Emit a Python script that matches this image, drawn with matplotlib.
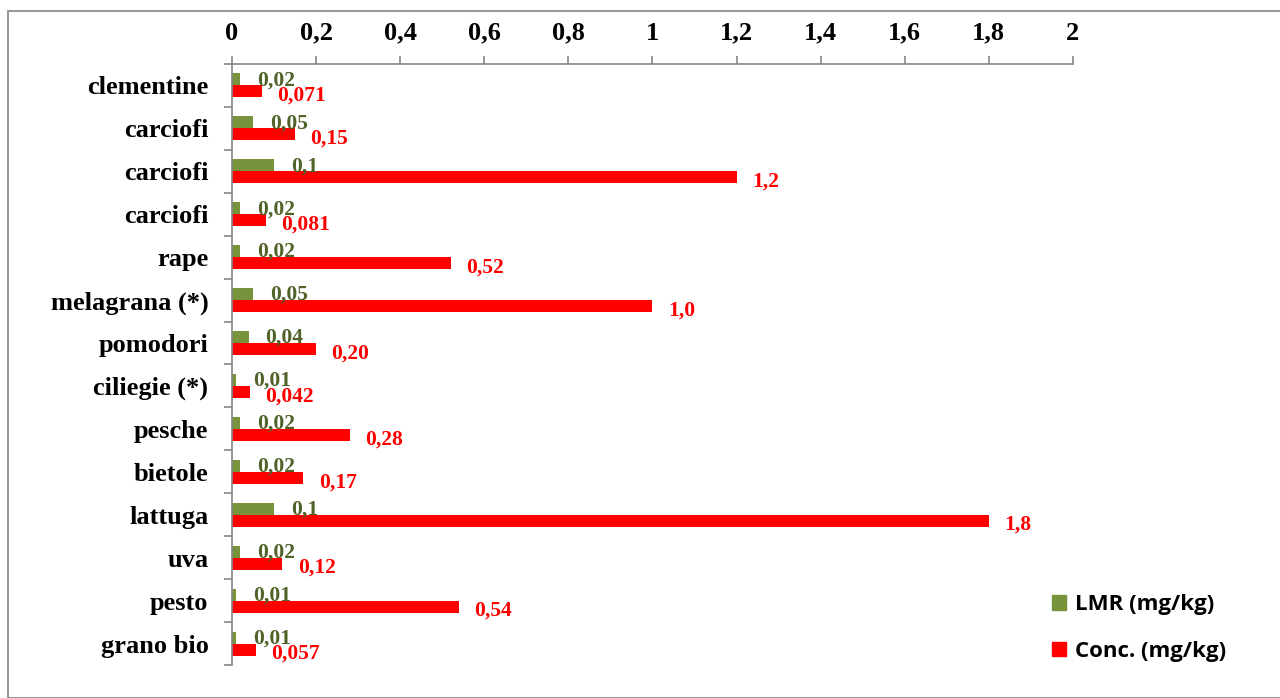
import matplotlib.pyplot as plt
import numpy as np
from matplotlib.patches import Rectangle, Patch

# categories top to bottom
prodotti = ['clementine', 'carciofi', 'carciofi', 'carciofi', 'rape', 'melagrana (*)',
            'pomodori', 'ciliegie (*)', 'pesche', 'bietole', 'lattuga', 'uva',
            'pesto', 'grano bio']
lmr = [0.02, 0.05, 0.1, 0.02, 0.02, 0.05, 0.04, 0.01, 0.02, 0.02, 0.1, 0.02, 0.01, 0.01]
conc = [0.071, 0.15, 1.2, 0.081, 0.52, 1.0, 0.20, 0.042, 0.28, 0.17, 1.8, 0.12, 0.54, 0.057]
lmr_lab = ['0,02', '0,05', '0,1', '0,02', '0,02', '0,05', '0,04', '0,01', '0,02', '0,02',
           '0,1', '0,02', '0,01', '0,01']
conc_lab = ['0,071', '0,15', '1,2', '0,081', '0,52', '1,0', '0,20', '0,042', '0,28', '0,17',
            '1,8', '0,12', '0,54', '0,057']
xticks = [0, 0.2, 0.4, 0.6, 0.8, 1, 1.2, 1.4, 1.6, 1.8, 2]

verde = '#77933C'
rosso = '#FF0000'
grigio = '#868686'
serif = 'Liberation Serif'

fig = plt.figure(figsize=(12.8, 6.98), dpi=100)
ax = fig.add_axes([0.18125, 0.0473, 0.657, 0.861])

# outer chart frame
fig.patches.append(Rectangle((8 / 1280, 0.0), 1.0, 1 - 11 / 698, transform=fig.transFigure,
                             fill=False, edgecolor=grigio, linewidth=1.2))

y = np.arange(len(prodotti))
h = 0.28
ax.barh(y - h / 2, lmr, height=h, color=verde, label='LMR (mg/kg)')
ax.barh(y + h / 2, conc, height=h, color=rosso, label='Conc. (mg/kg)')

for i in range(len(prodotti)):
    ax.annotate(lmr_lab[i], (lmr[i], y[i] - h / 2 + 0.02), xytext=(12, 0),
                textcoords='offset points', va='center', ha='left',
                fontsize=15.5, fontweight='bold', family=serif, color='#4F6228')
    ax.annotate(conc_lab[i], (conc[i], y[i] + h / 2 + 0.1), xytext=(11, 0),
                textcoords='offset points', va='center', ha='left',
                fontsize=15.5, fontweight='bold', family=serif, color=rosso)

ax.set_xlim(0, 2)
ax.set_ylim(len(prodotti) - 0.5, -0.5)
ax.xaxis.tick_top()
ax.set_xticks(xticks)
ax.set_xticklabels([('%g' % v).replace('.', ',') for v in xticks],
                   fontsize=19, fontweight='bold', family=serif)
ax.set_yticks(y)
ax.set_yticklabels(prodotti, fontsize=19, fontweight='bold', family=serif)
ax.set_yticks(np.arange(-0.5, len(prodotti)), minor=True)
ax.tick_params(axis='y', which='major', length=0, pad=17)
ax.tick_params(axis='y', which='minor', length=6, color=grigio, width=1.2)
ax.tick_params(axis='x', length=6, color=grigio, width=1.2, pad=8)

for s in ['right', 'bottom']:
    ax.spines[s].set_visible(False)
for s in ['top', 'left']:
    ax.spines[s].set_color(grigio)
    ax.spines[s].set_linewidth(1.2)

handles = [Patch(color=verde, label='LMR (mg/kg)'), Patch(color=rosso, label='Conc. (mg/kg)')]
fig.legend(handles=handles, loc='center left', bbox_to_anchor=(1032 / 1280, 1 - 628 / 698),
           frameon=False, prop={'family': 'Open Sans', 'weight': 'bold', 'size': 16},
           handlelength=0.65, handleheight=0.65, handletextpad=0.4, labelspacing=1.15)

fig.savefig('out.png', dpi=100)
